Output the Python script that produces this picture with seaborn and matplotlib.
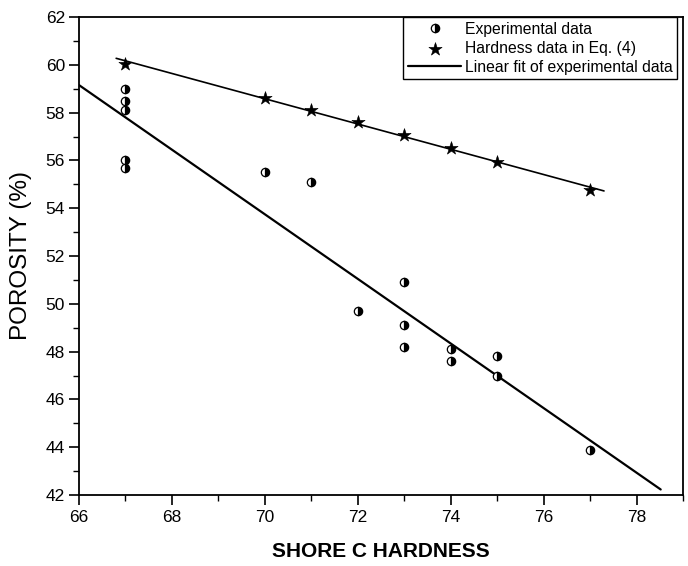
import numpy as np
import pandas as pd
import matplotlib
matplotlib.use("Agg")
import matplotlib.pyplot as plt
import seaborn as sns
from matplotlib.ticker import MultipleLocator

sns.set_style("ticks")
plt.rcParams['font.family'] = ['Liberation Sans', 'DejaVu Sans']
plt.rcParams['text.color'] = 'black'
plt.rcParams['axes.labelcolor'] = 'black'
plt.rcParams['xtick.color'] = 'black'
plt.rcParams['ytick.color'] = 'black'

# Experimental data
exp_hardness = [67, 67, 67, 67, 67, 70, 71, 72, 73, 73, 73, 74, 74, 75, 75, 77]
exp_porosity = [59.0, 58.5, 58.1, 56.0, 55.7, 55.5, 55.1, 49.7, 50.9, 49.1, 48.2, 48.1, 47.6, 47.8, 47.0, 43.9]

# Hardness data in Eq. (4)
eq_hardness = [67, 70, 71, 72, 73, 74, 75, 77]
eq_porosity = [60.05, 58.6, 58.1, 57.6, 57.05, 56.5, 55.95, 54.75]

fit_range = [66.0, 78.52]
eq_range = [66.8, 77.3]

exp_df = pd.DataFrame({"h": exp_hardness, "p": exp_porosity})
eq_df = pd.DataFrame({"h": eq_hardness, "p": eq_porosity})

fig = plt.figure(figsize=(6.88, 5.66), dpi=100)
ax = fig.add_axes([79 / 688, 1 - 495 / 566, (683 - 79) / 688, (495 - 17) / 566])

# Linear fit of experimental data
k, b = np.polyfit(exp_hardness, exp_porosity, 1)
fx = np.array(fit_range)
fit_df = pd.DataFrame({"h": fx, "p": k * fx + b})
sns.lineplot(data=fit_df, x="h", y="p", ax=ax, color="black", lw=1.6,
             label="Linear fit of experimental data", zorder=2)

# Line through Eq. (4) data
k2, b2 = np.polyfit(eq_hardness, eq_porosity, 1)
ex = np.array(eq_range)
eqline_df = pd.DataFrame({"h": ex, "p": k2 * ex + b2})
sns.lineplot(data=eqline_df, x="h", y="p", ax=ax, color="black", lw=1.2, zorder=2)

# Experimental points (half-filled circles)
sns.lineplot(data=exp_df, x="h", y="p", ax=ax, estimator=None, sort=False,
             linestyle="", marker="o", markersize=6, fillstyle="right",
             markerfacecolor="black", markerfacecoloralt="white",
             markeredgecolor="black", markeredgewidth=0.9,
             color="black", label="Experimental data", zorder=3)

# Eq. (4) stars
sns.scatterplot(data=eq_df, x="h", y="p", ax=ax, marker="*", s=100,
                color="black", edgecolor="black", linewidth=0.4,
                label="Hardness data in Eq. (4)", zorder=4)

ax.set_xlim(66, 79)
ax.set_ylim(42, 62)
ax.xaxis.set_major_locator(MultipleLocator(2))
ax.xaxis.set_minor_locator(MultipleLocator(1))
ax.yaxis.set_major_locator(MultipleLocator(2))
ax.yaxis.set_minor_locator(MultipleLocator(1))
ax.tick_params(which="major", direction="out", length=7, width=1.2, labelsize=12.5, colors="black")
ax.tick_params(axis="x", which="major", pad=4)
ax.tick_params(axis="y", which="major", pad=3)
ax.tick_params(which="minor", direction="out", length=4, width=1.0, colors="black")
ax.tick_params(top=False, right=False, which="both")
for s in ax.spines.values():
    s.set_visible(True)
    s.set_linewidth(1.3)
    s.set_color("black")

ax.set_xlabel("SHORE C HARDNESS", fontsize=15, fontweight="bold", labelpad=12, color="black")
ax.set_ylabel("POROSITY (%)", fontsize=17.5, labelpad=10, color="black")

handles, labels = ax.get_legend_handles_labels()
order = [labels.index("Experimental data"), labels.index("Hardness data in Eq. (4)"),
         labels.index("Linear fit of experimental data")]
leg = ax.legend([handles[i] for i in order], [labels[i] for i in order],
                loc="upper right", bbox_to_anchor=(677 / 688, 1 - 17 / 566),
                bbox_transform=fig.transFigure, fontsize=11.3,
                frameon=True, fancybox=False, edgecolor="black", framealpha=1,
                borderpad=0.3, labelspacing=0.25, handlelength=3.4, handletextpad=0.2,
                borderaxespad=0)
leg.get_frame().set_linewidth(1.0)
for t in leg.get_texts():
    t.set_color("black")

fig.savefig("out.png", dpi=100, facecolor="white")
